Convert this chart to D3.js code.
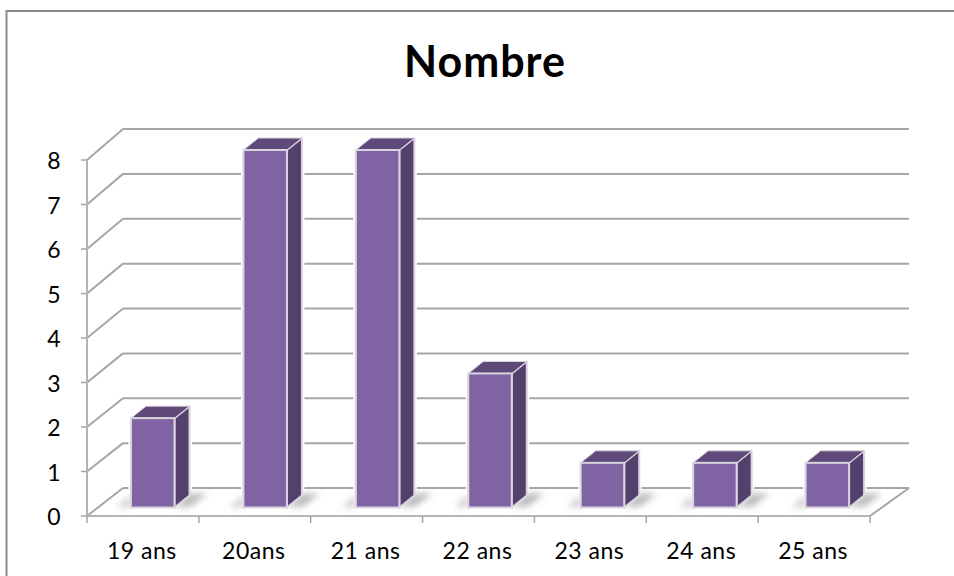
<!DOCTYPE html>
<html><head><meta charset="utf-8">
<script src="https://cdn.jsdelivr.net/npm/d3@7"></script>
<style>html,body{margin:0;padding:0;background:#fff;overflow:hidden}svg{display:block}text{font-family:Lato,sans-serif;fill:#000}</style>
</head><body><svg id="c" width="954" height="576"></svg>
<script>
const categories = ["19 ans","20ans","21 ans","22 ans","23 ans","24 ans","25 ans"];
const values = [2,8,8,3,1,1,1];
const yTicks = [0,1,2,3,4,5,6,7,8];
const title = "Nombre";

const svg = d3.select("#c");
const defs = svg.append("defs");
defs.append("filter").attr("id","sh").attr("x","-40%").attr("y","-80%").attr("width","180%").attr("height","260%")
  .append("feGaussianBlur").attr("stdDeviation",3);
const soft = defs.append("filter").attr("id","soft");
soft.append("feGaussianBlur").attr("stdDeviation",0.55);

// frame: runs past the right and bottom edges of the picture
svg.append("rect").attr("x",6.5).attr("y",11).attr("width",980).attr("height",600)
  .attr("fill","#fff").attr("stroke","#8c8c8c").attr("stroke-width",2);

svg.append("text").attr("x",485).attr("y",77).attr("text-anchor","middle")
  .attr("font-size",43).attr("letter-spacing",1).attr("font-weight",700).text(title);

const x = d3.scaleBand().domain(categories).range([87,870]);
const xBar = d3.scaleBand().domain(categories).range([87,874]);
const y = d3.scaleLinear().domain([0,8]).range([516,160]);
const yBack = d3.scaleLinear().domain([0,8]).range([488,129]);
const yBar = d3.scaleLinear().domain([0,8]).range([507.5,150]);
const dx = 37, wallRight = 909;
const g = svg.append("g").attr("filter","url(#soft)");
const axisCol = "#b4b4b4", gridCol="#a6a6a6";

yTicks.forEach(t=>{
  g.append("line").attr("x1",87+dx-1).attr("x2",wallRight).attr("y1",yBack(t)).attr("y2",yBack(t)).attr("stroke",gridCol).attr("stroke-width",2);
  g.append("line").attr("x1",87).attr("x2",87+dx-1).attr("y1",y(t)).attr("y2",yBack(t)).attr("stroke",gridCol).attr("stroke-width",2);
  g.append("line").attr("x1",81).attr("x2",87).attr("y1",y(t)).attr("y2",y(t)).attr("stroke",gridCol).attr("stroke-width",1.5);
  svg.append("text").attr("x",54).attr("y",y(t)+9).attr("text-anchor","middle").attr("font-size",23).text(t);
});
g.append("line").attr("x1",87).attr("x2",87).attr("y1",y(0)).attr("y2",y(8)).attr("stroke",axisCol).attr("stroke-width",2);
g.append("line").attr("x1",87).attr("x2",870).attr("y1",y(0)).attr("y2",y(0)).attr("stroke",axisCol).attr("stroke-width",2);
g.append("line").attr("x1",870).attr("x2",wallRight).attr("y1",y(0)).attr("y2",yBack(0)).attr("stroke",gridCol).attr("stroke-width",2);
d3.range(8).forEach(i=>{
  const px = 87 + i*x.step();
  g.append("line").attr("x1",px).attr("x2",px).attr("y1",y(0)).attr("y2",y(0)+7).attr("stroke",gridCol).attr("stroke-width",1.5);
});

const barW = 43.5, depthX = 15, depthY = 12;
const left = c => xBar(c) + 44;
const bars = g.selectAll("g.bar").data(categories.map((c,i)=>({c,v:values[i]}))).join("g").attr("class","bar");
bars.append("path").attr("fill","#fff").attr("stroke","#fff").attr("stroke-width",5).attr("d",d=>{
  const l=left(d.c),b=yBar(0),t=yBar(d.v);
  return `M${l},${b}L${l},${t}L${l+depthX},${t-depthY}L${l+barW+depthX},${t-depthY}L${l+barW+depthX},${b-depthY}L${l+barW},${b}Z`;
});
bars.append("path").attr("filter","url(#sh)").attr("fill","#bcbcbc").attr("d",d=>{
  const l=left(d.c),b=yBar(0);
  return `M${l+barW},${b}L${l+barW+depthX},${b-depthY-2}L${l+barW+33},${b-depthY-2}L${l+barW+16},${b-1}Z`;
});
bars.append("path").attr("filter","url(#sh)").attr("fill","#d2d2d2").attr("d",d=>{
  const l=left(d.c),b=yBar(0);
  return `M${l},${b}L${l},${b-13}L${l-8},${b-6}L${l-14},${b}Z`;
});
bars.append("path").attr("fill","#533f6c").attr("stroke","#d9d4e0").attr("stroke-width",2).attr("stroke-linejoin","round").attr("d",d=>{
  const l=left(d.c)+barW,b=yBar(0),t=yBar(d.v);
  return `M${l},${b}L${l+depthX},${b-depthY}L${l+depthX},${t-depthY}L${l},${t}Z`;
});
bars.append("path").attr("fill","#5e4878").attr("stroke","#d9d4e0").attr("stroke-width",1).attr("d",d=>{
  const l=left(d.c),t=yBar(d.v);
  return `M${l},${t}L${l+depthX},${t-depthY}L${l+barW+depthX},${t-depthY}L${l+barW},${t}Z`;
});
bars.append("rect").attr("x",d=>left(d.c)).attr("y",d=>yBar(d.v)).attr("width",barW).attr("height",d=>yBar(0)-yBar(d.v))
  .attr("fill","#8064a2").attr("stroke","#d9d4e0").attr("stroke-width",2);

categories.forEach(c=>{
  svg.append("text").attr("x",x(c)+x.step()/2-1).attr("y",559).attr("text-anchor","middle").attr("font-size",23).attr("letter-spacing",0.5).text(c);
});
</script></body></html>
